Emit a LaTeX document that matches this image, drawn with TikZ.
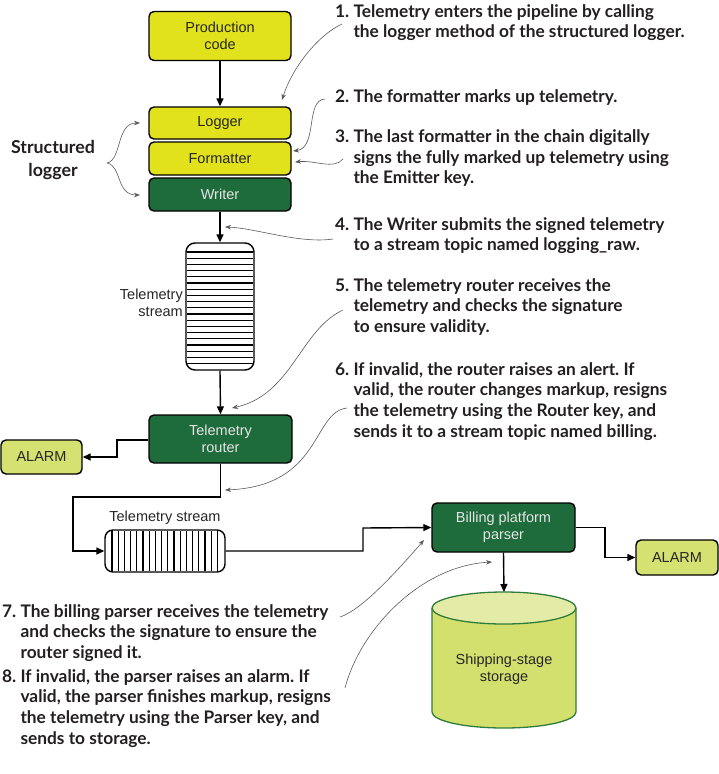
\documentclass[tikz,border=0pt]{standalone}
\usepackage{fontspec}
\setmainfont{Liberation Sans}
\newfontfamily\annfont{Lato}
\usetikzlibrary{arrows.meta,calc}
\definecolor{ylw}{HTML}{E2E21C}
\definecolor{dgreen}{HTML}{1E6B3B}
\definecolor{lgreen}{HTML}{D5E170}
\definecolor{cylbody}{HTML}{D4E06E}
\definecolor{cyltop}{HTML}{E3EBA6}
\definecolor{cylline}{HTML}{2E7D3A}
\definecolor{anncol}{HTML}{231F20}
\frenchspacing
\begin{document}
\begin{tikzpicture}[x=1pt,y=-1pt,
 box/.style={draw=black, line width=1.4pt, rounded corners=5pt, inner sep=0pt, align=center, font=\fontsize{14.5}{17}\selectfont, text=black!85},
 ybox/.style={box, fill=ylw},
 gbox/.style={box, fill=dgreen, text=white!90!black},
 abox/.style={box, fill=lgreen},
 conn/.style={line width=1.4pt, -{Triangle[length=8pt,width=7pt]}},
 note/.style={anchor=base west, inner sep=0pt, font=\annfont\bfseries\fontsize{17.3}{20.7}\selectfont, text=anncol},
 ptr/.style={draw=black!65, line width=0.6pt, -{Stealth[length=6pt,width=4.5pt]}},
 lbl/.style={font=\fontsize{14.5}{17}\selectfont, text=black!85, inner sep=0pt},
]
\useasboundingbox (0,0) rectangle (719,774);

% main boxes
\node[ybox, minimum width=142pt, minimum height=49pt] (prod) at (220,36) {Production\\code};
\node[ybox, minimum width=142pt, minimum height=32pt] (logger) at (220,123) {Logger};
\node[ybox, minimum width=142pt, minimum height=33pt] (fmt) at (220,158.5) {Formatter};
\node[gbox, minimum width=142pt, minimum height=33pt] (writer) at (220,194.5) {Writer};

\node[box, minimum width=68pt, minimum height=127pt, rounded corners=9pt] (st1) at (220,306.5) {};
\foreach \i in {0,...,18} \draw[line width=1.2pt] (187,{252+\i*6.2}) -- (253,{252+\i*6.2});
\node[lbl, align=right, anchor=east] (st1lbl) at (183,303) {Telemetry\\stream};

\node[gbox, minimum width=143pt, minimum height=48pt] (router) at (220.5,439) {Telemetry\\router};
\node[abox, minimum width=81pt, minimum height=34pt] (alarm1) at (41.5,457) {ALARM};

\node[box, minimum width=120pt, minimum height=42pt, rounded corners=8pt] (st2) at (165,551) {};
\foreach \i in {0,...,17} \draw[line width=1.2pt] ({112+\i*6.2},531) -- ({112+\i*6.2},571);
\node[lbl] (st2lbl) at (165,518) {Telemetry stream};

\node[gbox, minimum width=143pt, minimum height=49pt] (parser) at (503.5,527.5) {Billing platform\\parser};
\node[abox, minimum width=82pt, minimum height=35pt] (alarm2) at (677,557.5) {ALARM};

% cylinder
\fill[cylbody] (432,608) -- (432,712) arc[start angle=180,end angle=360,x radius=72pt,y radius=16pt] -- (576,608) -- cycle;
\draw[cylline, line width=1.3pt] (432,608) -- (432,712) arc[start angle=180,end angle=360,x radius=72pt,y radius=16pt] -- (576,608);
\draw[cylline, line width=1.3pt, fill=cyltop] (504,608) ellipse[x radius=72pt, y radius=16pt];
\coordinate (stor) at (504,592);
\node[lbl, align=center] (stortxt) at (504,669) {Shipping-stage\\storage};

% connectors
\draw[conn] (prod.south) -- (logger.north);
\draw[conn] (writer.south) -- (st1.north);
\draw[conn] (st1.south) -- (router.north);
\coordinate (ra) at (117,440);
\draw[conn] (router.west |- ra) -- (ra) |- (alarm1.east);
\coordinate (rb) at (73,497);
\draw[conn] (router.south) |- (rb) |- (st2.west);
\coordinate (sb) at (363,528);
\draw[conn] (st2.east) -| (sb) -- (parser.west);
\coordinate (pa) at (605,527.5);
\draw[conn] (parser.east) -- (pa) |- (alarm2.west);
\draw[conn] (parser.south) -- (stor);

% Structured logger
\node[inner sep=0pt, align=center, font=\annfont\bfseries\fontsize{17.8}{23}\selectfont, text=anncol] (sl) at (53,159.5) {Structured\\logger};
\coordinate (slc) at (107,163);
\draw[ptr] (slc) .. controls (122,160) and (116,123) .. (140,123);
\draw[ptr] (slc) .. controls (122,166) and (116,195) .. (140,195);

% annotations
\node[note] (n1) at (335,17) {\begin{tabular}[t]{@{}l@{\ }l@{}}1.&Telemetry enters the pipeline by calling\\&the logger method of the structured logger.\end{tabular}};
\node[note] (n2) at (335,102) {\begin{tabular}[t]{@{}l@{\ }l@{}}2.&The formatter marks up telemetry.\end{tabular}};
\node[note] (n3) at (335,142.5) {\begin{tabular}[t]{@{}l@{\ }l@{}}3.&The last formatter in the chain digitally\\&signs the fully marked up telemetry using\\&the Emitter key.\end{tabular}};
\node[note] (n4) at (335,230) {\begin{tabular}[t]{@{}l@{\ }l@{}}4.&The Writer submits the signed telemetry\\&to a stream topic named logging\_raw.\end{tabular}};
\node[note] (n5) at (335,291) {\begin{tabular}[t]{@{}l@{\ }l@{}}5.&The telemetry router receives the\\&telemetry and checks the signature\\&to ensure validity.\end{tabular}};
\node[note] (n6) at (335,375) {\begin{tabular}[t]{@{}l@{\ }l@{}}6.&If invalid, the router raises an alert. If\\&valid, the router changes markup, resigns\\&the telemetry using the Router key, and\\&sends it to a stream topic named billing.\end{tabular}};
\node[note] (n7) at (2,617) {\begin{tabular}[t]{@{}l@{\ }l@{}}7.&The billing parser receives the telemetry\\&and checks the signature to ensure the\\&router signed it.\end{tabular}};
\node[note] (n8) at (2,682) {\begin{tabular}[t]{@{}l@{\ }l@{}}8.&If invalid, the parser raises an alarm. If\\&valid, the parser finishes markup, resigns\\&the telemetry using the Parser key, and\\&sends to storage.\end{tabular}};

% annotation pointers
\coordinate (a1) at (342,24);   \coordinate (t1) at (282,100);
\coordinate (a2) at (325,99);   \coordinate (t2) at (293,151);
\coordinate (a3) at (343,159);  \coordinate (t3) at (295,162);
\coordinate (a4) at (333,239);  \coordinate (t4) at (225,227);
\coordinate (a5) at (343,310);  \coordinate (t5) at (232,408);
\coordinate (a6) at (347,408);  \coordinate (t6) at (225,490);
\coordinate (a7) at (340,617);  \coordinate (t7) at (424,540);
\coordinate (a8) at (345,688);  \coordinate (t8) at (492,562);
\draw[ptr] (a1) .. controls (318,35) and (292,68) .. (t1);
\draw[ptr] (a2) .. controls (305,100) and (318,148) .. (t2);
\draw[ptr] (a3) .. controls (334,170) and (315,160) .. (t3);
\draw[ptr] (a4) .. controls (300,244) and (255,228) .. (t4);
\draw[ptr] (a5) .. controls (300,330) and (292,395) .. (t5);
\draw[ptr] (a6) .. controls (312,412) and (322,486) .. (t6);
\draw[ptr] (a7) .. controls (362,610) and (398,570) .. (t7);
\draw[ptr] (a8) .. controls (360,630) and (420,566) .. (t8);
\end{tikzpicture}
\end{document}
